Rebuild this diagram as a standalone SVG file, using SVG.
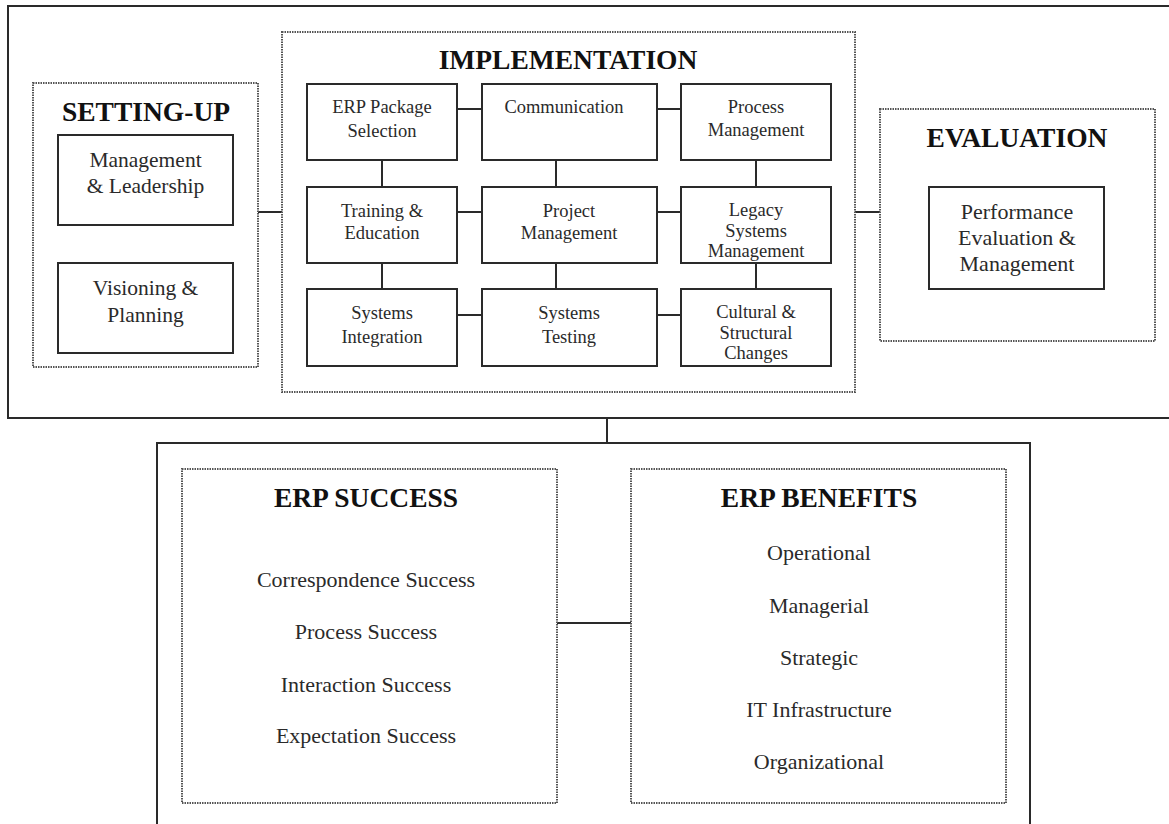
<svg xmlns="http://www.w3.org/2000/svg" width="1169" height="824" viewBox="0 0 1169 824">
  <style>
    .frame { fill: none; stroke: #2a2a2a; stroke-width: 2; }
    .box { fill: #ffffff; stroke: #2a2a2a; stroke-width: 2; }
    .group { fill: none; stroke: #555555; stroke-width: 2; stroke-dasharray: 1.5 1; }
    .link { stroke: #2a2a2a; stroke-width: 2; fill: none; }
    .title { font-family: "Liberation Serif", "Times New Roman", serif; font-weight: bold; font-size: 27.5px; fill: #111; text-anchor: middle; }
    .lbl { font-family: "Liberation Serif", "Times New Roman", serif; font-size: 18.5px; fill: #2a2a2a; text-anchor: middle; }
    .lbl-lg { font-family: "Liberation Serif", "Times New Roman", serif; font-size: 21.5px; fill: #2a2a2a; text-anchor: middle; }
    .item { font-family: "Liberation Serif", "Times New Roman", serif; font-size: 22px; fill: #2a2a2a; text-anchor: middle; }
  </style>

  <rect width="1169" height="824" fill="#ffffff"/>

  <!-- Outer frames -->
  <g id="frame-process">
    <rect class="frame" x="8" y="6" width="1170" height="412"/>
  </g>
  <g id="frame-outcomes">
    <rect class="frame" x="157" y="443" width="873" height="400"/>
  </g>

  <!-- Connectors -->
  <g id="connectors">
    <!-- phase links -->
    <line class="link" x1="258" y1="212" x2="282" y2="212"/>
    <line class="link" x1="855" y1="212" x2="880" y2="212"/>
    <line class="link" x1="607" y1="418" x2="607" y2="443"/>
    <line class="link" x1="557" y1="623" x2="631" y2="623"/>
    <!-- implementation grid: horizontal -->
    <line class="link" x1="457" y1="109" x2="482" y2="109"/>
    <line class="link" x1="657" y1="109" x2="681" y2="109"/>
    <line class="link" x1="457" y1="212" x2="482" y2="212"/>
    <line class="link" x1="657" y1="212" x2="681" y2="212"/>
    <line class="link" x1="457" y1="315" x2="482" y2="315"/>
    <line class="link" x1="657" y1="315" x2="681" y2="315"/>
    <!-- implementation grid: vertical -->
    <line class="link" x1="382" y1="160" x2="382" y2="187"/>
    <line class="link" x1="382" y1="263" x2="382" y2="289"/>
    <line class="link" x1="556" y1="160" x2="556" y2="187"/>
    <line class="link" x1="556" y1="263" x2="556" y2="289"/>
    <line class="link" x1="756" y1="160" x2="756" y2="187"/>
    <line class="link" x1="756" y1="263" x2="756" y2="289"/>
  </g>

  <!-- SETTING-UP -->
  <g id="setting-up">
    <rect class="group" x="33" y="83" width="225" height="284"/>
    <text class="title" x="146" y="121">SETTING-UP</text>
  </g>
  <g id="management-leadership">
    <rect class="box" x="58" y="135" width="175" height="90"/>
    <text class="lbl-lg" x="145.5" y="167">Management</text>
    <text class="lbl-lg" x="145.5" y="193">&amp; Leadership</text>
  </g>
  <g id="visioning-planning">
    <rect class="box" x="58" y="263" width="175" height="90"/>
    <text class="lbl-lg" x="145.5" y="295">Visioning &amp;</text>
    <text class="lbl-lg" x="145.5" y="322">Planning</text>
  </g>

  <!-- IMPLEMENTATION -->
  <g id="implementation">
    <rect class="group" x="282" y="32" width="573" height="360"/>
    <text class="title" x="568" y="69">IMPLEMENTATION</text>
  </g>
  <g id="erp-package-selection">
    <rect class="box" x="307" y="84" width="150" height="76"/>
    <text class="lbl" x="382" y="113">ERP Package</text>
    <text class="lbl" x="382" y="137">Selection</text>
  </g>
  <g id="communication">
    <rect class="box" x="482" y="84" width="175" height="76"/>
    <text class="lbl" x="564" y="113">Communication</text>
  </g>
  <g id="process-management">
    <rect class="box" x="681" y="84" width="150" height="76"/>
    <text class="lbl" x="756" y="113">Process</text>
    <text class="lbl" x="756" y="136">Management</text>
  </g>
  <g id="training-education">
    <rect class="box" x="307" y="187" width="150" height="76"/>
    <text class="lbl" x="382" y="217">Training &amp;</text>
    <text class="lbl" x="382" y="239">Education</text>
  </g>
  <g id="project-management">
    <rect class="box" x="482" y="187" width="175" height="76"/>
    <text class="lbl" x="569" y="217">Project</text>
    <text class="lbl" x="569" y="239">Management</text>
  </g>
  <g id="legacy-systems-management">
    <rect class="box" x="681" y="187" width="150" height="76"/>
    <text class="lbl" x="756" y="216">Legacy</text>
    <text class="lbl" x="756" y="237">Systems</text>
    <text class="lbl" x="756" y="257">Management</text>
  </g>
  <g id="systems-integration">
    <rect class="box" x="307" y="289" width="150" height="77"/>
    <text class="lbl" x="382" y="319">Systems</text>
    <text class="lbl" x="382" y="343">Integration</text>
  </g>
  <g id="systems-testing">
    <rect class="box" x="482" y="289" width="175" height="77"/>
    <text class="lbl" x="569" y="319">Systems</text>
    <text class="lbl" x="569" y="343">Testing</text>
  </g>
  <g id="cultural-structural-changes">
    <rect class="box" x="681" y="289" width="150" height="77"/>
    <text class="lbl" x="756" y="318">Cultural &amp;</text>
    <text class="lbl" x="756" y="339">Structural</text>
    <text class="lbl" x="756" y="359">Changes</text>
  </g>

  <!-- EVALUATION -->
  <g id="evaluation">
    <rect class="group" x="880" y="109" width="275" height="232"/>
    <text class="title" x="1017" y="147">EVALUATION</text>
  </g>
  <g id="performance-evaluation">
    <rect class="box" x="929" y="187" width="175" height="102"/>
    <text class="item" x="1017" y="219">Performance</text>
    <text class="item" x="1017" y="245">Evaluation &amp;</text>
    <text class="item" x="1017" y="271">Management</text>
  </g>

  <!-- ERP SUCCESS -->
  <g id="erp-success">
    <rect class="group" x="182" y="469" width="375" height="334"/>
    <text class="title" x="366" y="507">ERP SUCCESS</text>
    <text class="item" x="366" y="587">Correspondence Success</text>
    <text class="item" x="366" y="639">Process Success</text>
    <text class="item" x="366" y="692">Interaction Success</text>
    <text class="item" x="366" y="743">Expectation Success</text>
  </g>

  <!-- ERP BENEFITS -->
  <g id="erp-benefits">
    <rect class="group" x="631" y="469" width="375" height="334"/>
    <text class="title" x="819" y="507">ERP BENEFITS</text>
    <text class="item" x="819" y="560">Operational</text>
    <text class="item" x="819" y="613">Managerial</text>
    <text class="item" x="819" y="665">Strategic</text>
    <text class="item" x="819" y="717">IT Infrastructure</text>
    <text class="item" x="819" y="769">Organizational</text>
  </g>
</svg>
